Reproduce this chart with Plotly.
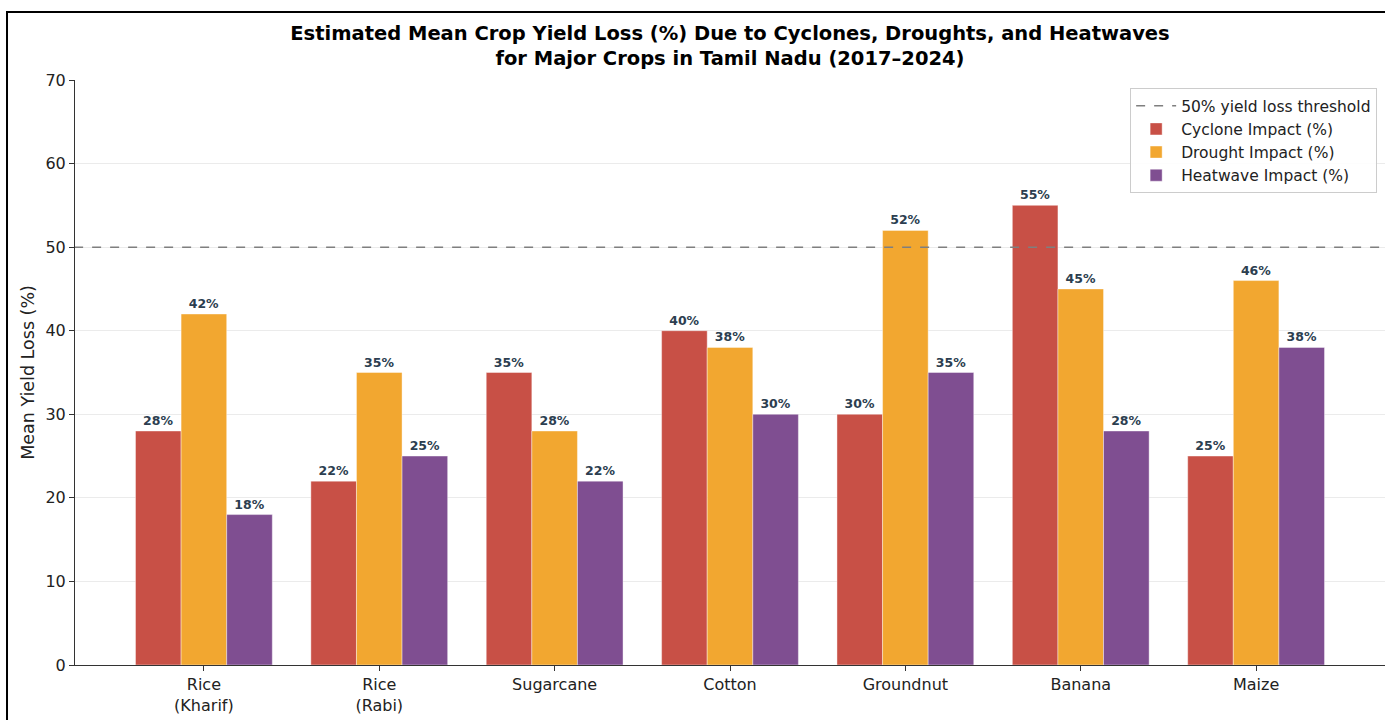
import plotly.graph_objects as go

crops = ["Rice<br>(Kharif)", "Rice<br>(Rabi)", "Sugarcane", "Cotton", "Groundnut", "Banana", "Maize"]
cyclone = [28, 22, 35, 40, 30, 55, 25]
drought = [42, 35, 28, 38, 52, 45, 46]
heatwave = [18, 25, 22, 30, 35, 28, 38]
threshold = 50
y_ticks = [0, 10, 20, 30, 40, 50, 60, 70]

x = list(range(len(crops)))
FONT = "DejaVu Sans"

fig = go.Figure()
series = [
    ("Cyclone Impact (%)", cyclone, "#c85046"),
    ("Drought Impact (%)", drought, "#f2a730"),
    ("Heatwave Impact (%)", heatwave, "#7f4e91"),
]
for i, (name, vals, col) in enumerate(series):
    fig.add_trace(go.Bar(
        x=x, y=vals, name=name,
        marker=dict(color=col, line=dict(color="rgba(255,255,255,0.5)", width=0.8)),
        texttemplate="%{y}%", textposition="outside", cliponaxis=False,
        textfont=dict(family=FONT, size=12.5, color="#2c3e50", weight="bold"),
        legendrank=2 + i,
    ))

fig.add_trace(go.Scatter(
    x=[-0.74, 6.74], y=[threshold, threshold], mode="lines",
    name="50% yield loss threshold",
    line=dict(color="#7f7f7f", width=1.5, dash="dash"),
    legendrank=1,
))

fig.update_layout(
    width=1385, height=720,
    margin=dict(l=75, r=0, t=80, b=55),
    paper_bgcolor="white", plot_bgcolor="white",
    font=dict(family=FONT, size=16, color="#222"),
    title=dict(
        text="<b>Estimated Mean Crop Yield Loss (%) Due to Cyclones, Droughts, and Heatwaves<br>for Major Crops in Tamil Nadu (2017–2024)</b>",
        xref="paper", x=0.5, xanchor="center", y=0.945, yanchor="top",
        font=dict(family=FONT, size=19.5, color="black"),
    ),
    barmode="group", bargap=0.22, bargroupgap=0,
    showlegend=True,
    legend=dict(
        x=0.994, xanchor="right", y=0.986, yanchor="top",
        bgcolor="rgba(255,255,255,0.9)", bordercolor="#cccccc", borderwidth=1,
        font=dict(family=FONT, size=15.5, color="#222"),
        tracegroupgap=0, itemwidth=40,
    ),
    shapes=[dict(type="rect", xref="paper", yref="paper",
                 x0=-0.0519, x1=1.05, y0=-0.3, y1=1.1162,
                 line=dict(color="black", width=2), fillcolor="rgba(0,0,0,0)", layer="above")],
)
fig.update_xaxes(
    tickmode="array", tickvals=x, ticktext=crops, range=[-0.735, 6.735],
    showgrid=False, showline=True, linecolor="#333", linewidth=1,
    ticks="outside", ticklen=5, tickcolor="#333",
    tickfont=dict(family=FONT, size=16, color="#222"), zeroline=False,
)
fig.update_yaxes(
    range=[0, 70], tickmode="array", tickvals=y_ticks,
    showgrid=True, gridcolor="#ebebeb", gridwidth=1,
    showline=True, linecolor="#333", linewidth=1,
    ticks="outside", ticklen=5, tickcolor="#333",
    tickfont=dict(family=FONT, size=16, color="#222"), zeroline=False,
    title=dict(text="Mean Yield Loss (%)", font=dict(family=FONT, size=17.5, color="#222"), standoff=6),
)

fig.write_html("out.html", config={"displayModeBar": False},
               post_script="document.body.style.margin='0';")
